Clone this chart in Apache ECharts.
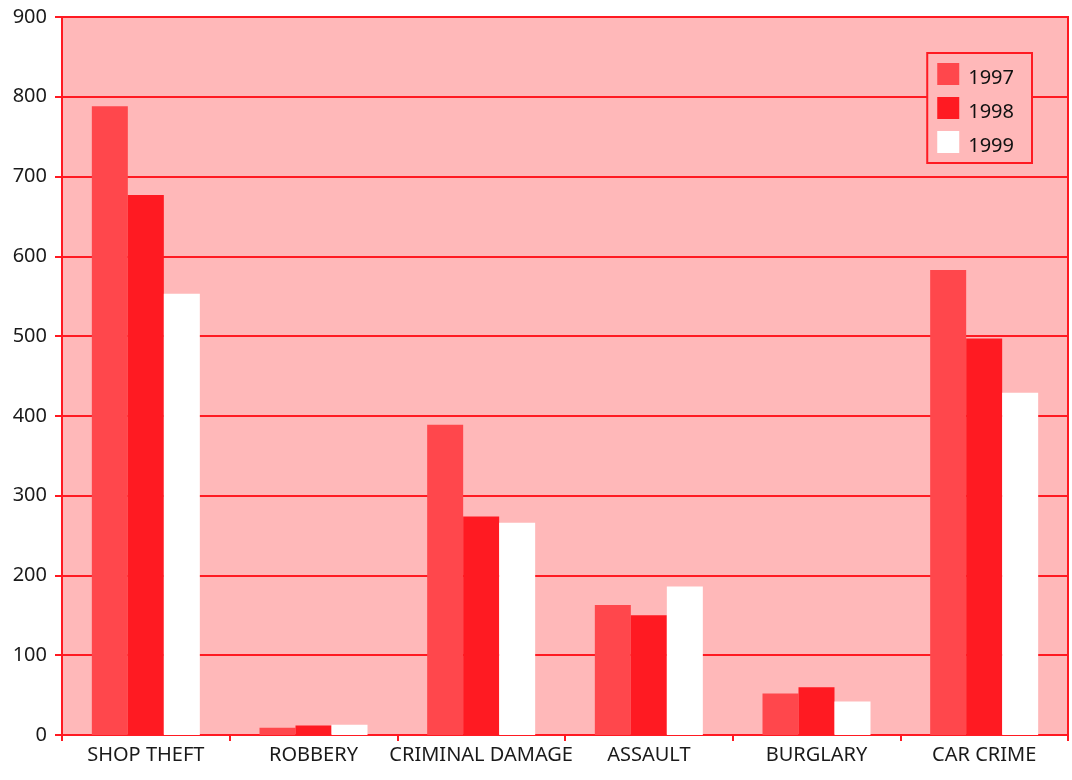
<!DOCTYPE html>
<html>
<head>
<meta charset="utf-8">
<script src="https://cdn.jsdelivr.net/npm/echarts@6/dist/echarts.min.js"></script>
<style>
  html, body { margin: 0; padding: 0; background: #ffffff; }
  #chart { width: 1072px; height: 780px; }
</style>
</head>
<body>
<div id="chart"></div>
<script>
// Recorded crimes by type, 1997–1999
const categories = ['SHOP THEFT', 'ROBBERY', 'CRIMINAL DAMAGE', 'ASSAULT', 'BURGLARY', 'CAR CRIME'];
const years = ['1997', '1998', '1999'];
const values1997 = [788, 9, 389, 163, 52, 583];
const values1998 = [677, 12, 274, 150, 60, 497];
const values1999 = [553, 13, 266, 186, 42, 429];
const yTicks = { min: 0, max: 900, interval: 100 };

const RED = '#ff1a22';
const seriesColors = ['#ff474c', '#ff1a22', '#ffffff'];
const FONT = 'Noto Sans';

const chart = echarts.init(document.getElementById('chart'), null, { renderer: 'canvas' });

const seriesData = [values1997, values1998, values1999];

chart.setOption({
  animation: false,
  textStyle: { fontFamily: FONT },
  grid: {
    left: 62, right: 4, top: 17, bottom: 45,
    show: true,
    backgroundColor: '#ffb8b9',
    borderColor: RED,
    borderWidth: 2
  },
  legend: {
    data: years,
    orient: 'vertical',
    right: 40,
    top: 53,
    padding: [7, 18, 7, 10],
    itemWidth: 22,
    itemHeight: 22,
    itemGap: 6,
    icon: 'rect',
    backgroundColor: '#ffb8b9',
    borderColor: RED,
    borderWidth: 2,
    borderRadius: 0,
    formatter: '{t|{name}}',
    textStyle: {
      fontFamily: FONT, fontSize: 20, color: '#111',
      rich: {
        t: { fontFamily: FONT, fontSize: 20, color: '#111', lineHeight: 14, padding: [8, 0, 0, 4] }
      }
    }
  },
  xAxis: {
    type: 'category',
    data: categories,
    boundaryGap: true,
    axisLine: { lineStyle: { color: RED, width: 2 } },
    axisTick: { show: true, length: 6, lineStyle: { color: RED, width: 2 } },
    axisLabel: { fontFamily: FONT, fontSize: 20, color: '#1a1a1a', margin: 10, interval: 0 },
    splitLine: { show: false }
  },
  yAxis: {
    type: 'value',
    min: yTicks.min,
    max: yTicks.max,
    interval: yTicks.interval,
    axisLine: { show: true, lineStyle: { color: RED, width: 2 } },
    axisTick: { show: true, length: 7, lineStyle: { color: RED, width: 2 } },
    axisLabel: { fontFamily: FONT, fontSize: 20, color: '#1a1a1a', margin: 15 },
    splitLine: { show: true, lineStyle: { color: RED, width: 2 } }
  },
  series: years.map((y, i) => ({
    name: y,
    type: 'bar',
    data: seriesData[i],
    barWidth: 36,
    barGap: '0%',
    itemStyle: { color: seriesColors[i] }
  }))
});
</script>
</body>
</html>
